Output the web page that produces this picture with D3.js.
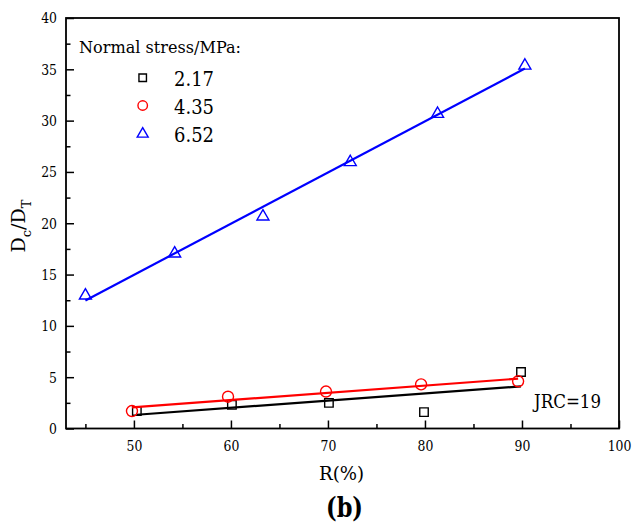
<!DOCTYPE html>
<html>
<head>
<meta charset="utf-8">
<script src="https://cdn.jsdelivr.net/npm/d3@7"></script>
<style>
  html, body { margin: 0; padding: 0; background: #fff; }
  svg { display: block; }
</style>
</head>
<body>
<svg id="chart" width="641" height="523"></svg>
<script>
// Normal stress levels (MPa)
const stressLabels = ["2.17", "4.35", "6.52"];
const seriesColors = ["#000000", "#ff0000", "#0000ff"];
const seriesShapes = ["square", "circle", "triangle"];

// R (%) and Dc/DT for each stress level
const r217 = [50.3, 60.1, 70.1, 79.9, 89.9];
const d217 = [1.7, 2.3, 2.5, 1.6, 5.5];
const r435 = [49.8, 59.7, 69.8, 79.6, 89.6];
const d435 = [1.7, 3.1, 3.6, 4.3, 4.6];
const r652 = [45.0, 54.2, 63.3, 72.3, 81.3, 90.3];
const d652 = [13.0, 17.1, 20.7, 26.0, 30.7, 35.4];

const xMajorTicks = [50, 60, 70, 80, 90, 100];
const xMinorTicks = [45, 55, 65, 75, 85, 95];
const yMajorTicks = [0, 5, 10, 15, 20, 25, 30, 35, 40];
const yMinorTicks = [2.5, 7.5, 12.5, 17.5, 22.5, 27.5, 32.5, 37.5];

const FONT = "DejaVu Serif, Liberation Serif, serif";

const series = [
  { r: r217, d: d217 },
  { r: r435, d: d435 },
  { r: r652, d: d652 }
].map((s, i) => ({
  label: stressLabels[i], color: seriesColors[i], shape: seriesShapes[i],
  points: s.r.map((v, j) => ({ x: v, y: s.d[j] }))
}));

// least-squares straight line through a series
function linearFit(pts) {
  const mx = d3.mean(pts, p => p.x), my = d3.mean(pts, p => p.y);
  const sxy = d3.sum(pts, p => (p.x - mx) * (p.y - my));
  const sxx = d3.sum(pts, p => (p.x - mx) ** 2);
  const slope = sxy / sxx, icpt = my - slope * mx;
  const [x0, x1] = d3.extent(pts, p => p.x);
  return [{ x: x0, y: icpt + slope * x0 }, { x: x1, y: icpt + slope * x1 }];
}

// narrow the serif face to Times-like proportions
function fitWidth(sel, w) {
  sel.attr("textLength", w).attr("lengthAdjust", "spacingAndGlyphs");
}

const svg = d3.select("#chart").attr("font-family", FONT);
const plotLeft = 66, plotRight = 619, plotTop = 18, plotBottom = 428.5;

const x = d3.scaleLinear().domain([43, 100]).range([plotLeft, plotRight]);
const y = d3.scaleLinear().domain([0, 40]).range([plotBottom, plotTop]);

// axes (ticks pointing inward)
const gx = svg.append("g").attr("transform", `translate(0,${plotBottom})`);
gx.call(d3.axisBottom(x).tickValues(xMajorTicks).tickSize(-8).tickPadding(11).tickFormat(d3.format("d")));
const gxm = svg.append("g").attr("transform", `translate(0,${plotBottom})`);
gxm.call(d3.axisBottom(x).tickValues(xMinorTicks).tickSize(-4.5).tickFormat(""));

const gy = svg.append("g").attr("transform", `translate(${plotLeft},0)`);
gy.call(d3.axisLeft(y).tickValues(yMajorTicks).tickSize(-8).tickPadding(9).tickFormat(d3.format("d")));
const gym = svg.append("g").attr("transform", `translate(${plotLeft},0)`);
gym.call(d3.axisLeft(y).tickValues(yMinorTicks).tickSize(-4.5).tickFormat(""));

svg.selectAll(".domain").remove();
svg.selectAll("g").attr("font-family", FONT).attr("font-size", null);
svg.selectAll(".tick line").attr("stroke", "#000").attr("stroke-width", 1.5);
svg.selectAll(".tick text").attr("fill", "#000").attr("font-size", 15.5)
  .each(function () {
    const t = d3.select(this);
    if (t.text()) fitWidth(t, 7.9 * t.text().length);
  });

// plot frame
svg.append("rect")
  .attr("x", plotLeft).attr("y", plotTop)
  .attr("width", plotRight - plotLeft).attr("height", plotBottom - plotTop)
  .attr("fill", "none").attr("stroke", "#000").attr("stroke-width", 1.8);

// marker path generators
function markerPath(shape, s) {
  if (shape === "square") {
    const h = s / 2;
    return `M${-h},${-h}H${h}V${h}H${-h}Z`;
  }
  if (shape === "circle") {
    const r = s / 2;
    return `M${r},0A${r},${r} 0 1,1 ${-r},0A${r},${r} 0 1,1 ${r},0Z`;
  }
  const h = s * 0.866;
  return `M0,${-h * 0.62}L${s / 2},${h * 0.38}L${-s / 2},${h * 0.38}Z`;
}
const markerSize = { square: 8.5, circle: 11, triangle: 12 };

const line = d3.line().x(p => x(p.x)).y(p => y(p.y));

series.forEach(s => {
  const g = svg.append("g");
  g.append("path")
    .attr("d", line(linearFit(s.points)))
    .attr("fill", "none").attr("stroke", s.color).attr("stroke-width", 2.2);
  g.selectAll("path.pt").data(s.points).join("path")
    .attr("class", "pt")
    .attr("transform", p => `translate(${x(p.x)},${y(p.y)})`)
    .attr("d", markerPath(s.shape, markerSize[s.shape]))
    .attr("fill", "none").attr("stroke", s.color).attr("stroke-width", 1.4);
});

// legend
svg.append("text").attr("x", 79).attr("y", 52.5)
  .attr("font-size", 17.5).call(fitWidth, 162).text("Normal stress/MPa:");
const legendSize = { square: 7.5, circle: 9.5, triangle: 11 };
const legendRows = [77.7, 105.5, 133.5];
series.forEach((s, i) => {
  svg.append("path")
    .attr("transform", `translate(142.7,${legendRows[i]})`)
    .attr("d", markerPath(s.shape, legendSize[s.shape]))
    .attr("fill", "none").attr("stroke", s.color).attr("stroke-width", 1.4);
  svg.append("text").attr("x", 174).attr("y", legendRows[i] + 8)
    .attr("font-size", 21).call(fitWidth, 40).text(s.label);
});

// annotation
svg.append("text").attr("x", 534).attr("y", 407.5)
  .attr("font-size", 18).call(fitWidth, 67).text("JRC=19");

// axis titles
svg.append("text").attr("x", 319).attr("y", 480)
  .attr("font-size", 18.5).call(fitWidth, 45).text("R(%)");

const yt = svg.append("text")
  .attr("transform", "translate(24.5,226) rotate(-90)")
  .attr("text-anchor", "middle").attr("font-size", 19);
yt.append("tspan").text("D");
yt.append("tspan").attr("dy", 6).attr("font-size", 13).text("c");
yt.append("tspan").attr("dy", -6).text("/D");
yt.append("tspan").attr("dy", 6).attr("font-size", 13).text("T");

// panel tag
svg.append("text").attr("x", 326).attr("y", 517)
  .attr("font-size", 27).attr("font-weight", "bold").call(fitWidth, 37).text("(b)");

svg.selectAll("text").attr("font-family", FONT).attr("fill", "#000");
</script>
</body>
</html>
